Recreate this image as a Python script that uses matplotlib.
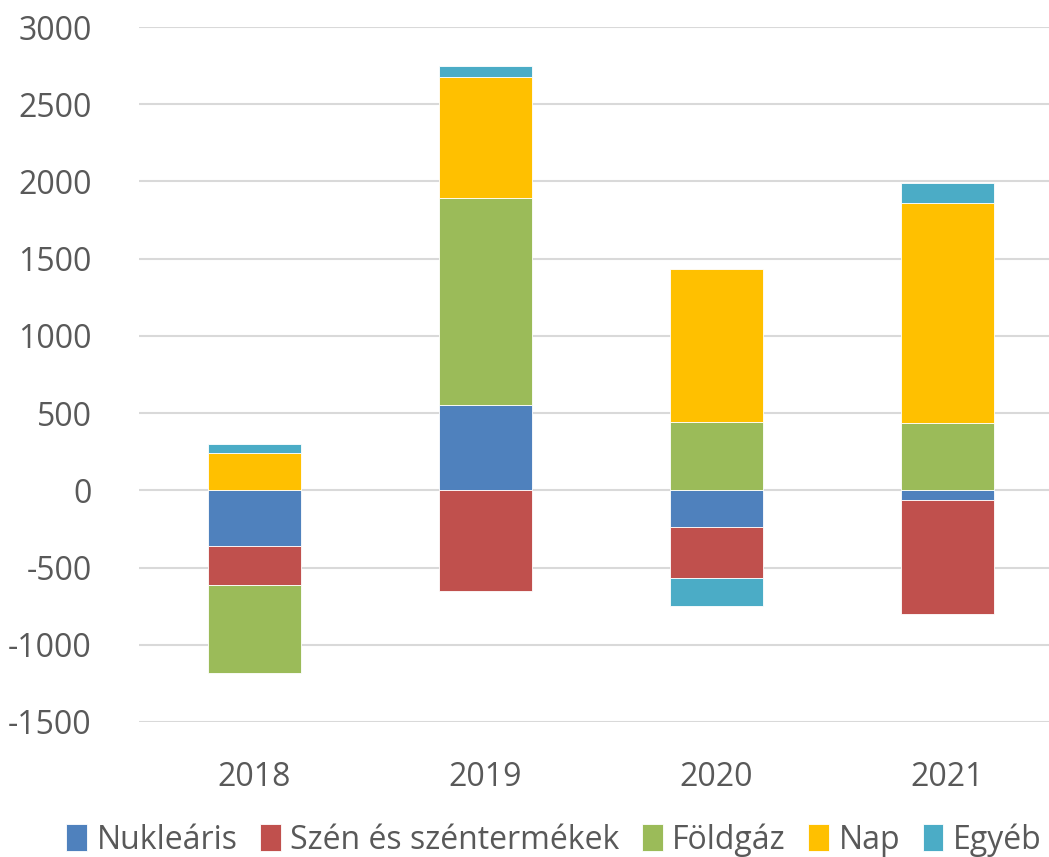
import numpy as np
import matplotlib
matplotlib.use("Agg")
import matplotlib.pyplot as plt

years = ["2018", "2019", "2020", "2021"]
series_names = ["Nukleáris", "Szén és széntermékek", "Földgáz", "Nap", "Egyéb"]
nuklearis = [-360, 550, -235, -65]
szen = [-250, -655, -335, -735]
foldgaz = [-575, 1340, 442, 438]
nap = [240, 785, 990, 1425]
egyeb = [58, 70, -180, 127]
colors = ["#4F81BD", "#C0504D", "#9BBB59", "#FFC000", "#4BACC6"]

plt.rcParams["font.family"] = ["Open Sans", "DejaVu Sans"]
plt.rcParams["axes.unicode_minus"] = False
text_color = "#595959"

fig = plt.figure(figsize=(10.49, 8.57), dpi=100)
ax = fig.add_axes([139 / 1049, 1 - 722 / 857, 924 / 1049, 695 / 857])

x = np.arange(len(years))
pos_base = np.zeros(len(years))
neg_base = np.zeros(len(years))
for name, vals, col in zip(series_names, [nuklearis, szen, foldgaz, nap, egyeb], colors):
    vals = np.array(vals, dtype=float)
    bottoms = np.where(vals >= 0, pos_base, neg_base)
    ax.bar(x, vals, width=0.4, bottom=bottoms, color=col, label=name,
           edgecolor="white", linewidth=0.6, zorder=3)
    pos_base += np.where(vals >= 0, vals, 0)
    neg_base += np.where(vals < 0, vals, 0)

ax.set_xlim(-0.5, 3.5)
ax.set_ylim(-1500, 3000)
ax.set_yticks(range(-1500, 3001, 500))
ax.set_xticks(x)
ax.set_xticklabels(years)
ax.yaxis.grid(True, color="#d9d9d9", linewidth=1.5, zorder=0)
ax.set_axisbelow(True)
for s in ax.spines.values():
    s.set_visible(False)
ax.tick_params(axis="both", length=0, labelsize=23, colors=text_color)
ax.tick_params(axis="y", pad=34)
ax.tick_params(axis="x", pad=28)

handles, labels = ax.get_legend_handles_labels()
fig.legend(handles, labels, loc="center", bbox_to_anchor=(554 / 1049, 1 - 840 / 857),
           ncol=5, frameon=False, fontsize=23, handlelength=0.65, handleheight=0.9,
           handletextpad=0.3, columnspacing=0.7, labelcolor=text_color)

fig.savefig("out.png", dpi=100)
